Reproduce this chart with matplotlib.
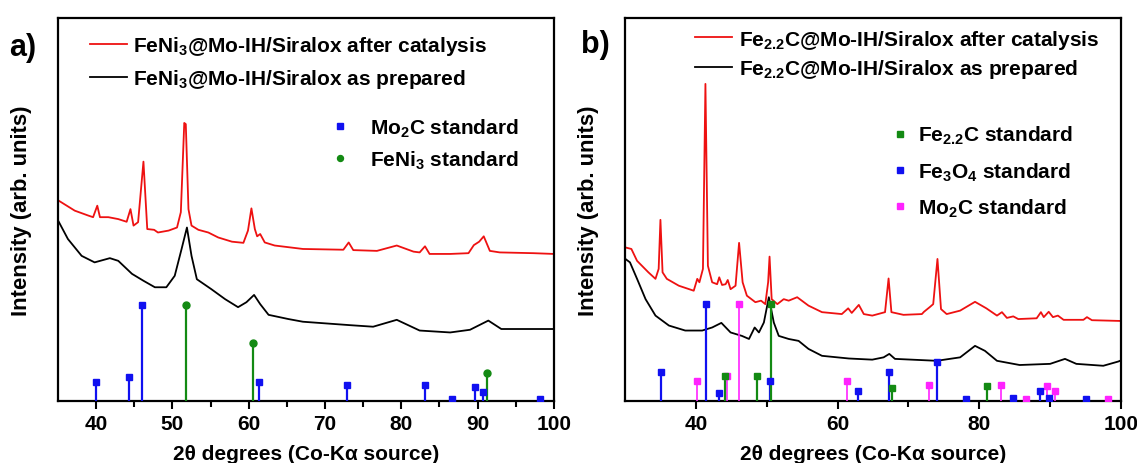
import matplotlib
matplotlib.use("Agg")
import matplotlib.pyplot as plt
from matplotlib.lines import Line2D

plt.rcParams['font.family'] = ['Liberation Sans', 'DejaVu Sans']
plt.rcParams['font.weight'] = 'bold'
plt.rcParams['mathtext.fontset'] = 'custom'
plt.rcParams['mathtext.rm'] = 'Liberation Sans:bold'
plt.rcParams['mathtext.it'] = 'Liberation Sans:bold'
plt.rcParams['mathtext.bf'] = 'Liberation Sans:bold'

# ---- panel a) FeNi3 ----
a_red_x = [35.1, 37.2, 39.0, 39.6, 40.15, 40.5, 41.6, 42.9, 44.0, 44.5, 44.9, 45.5, 46.2, 46.7,
           47.6, 48.1, 49.5, 50.6, 51.1, 51.55, 51.75, 52.1, 52.5, 53.4, 54.7, 56.0, 57.8, 59.3,
           59.9, 60.35, 60.8, 61.1, 61.5, 62.1, 63.4, 67.1, 72.4, 73.1, 73.7, 76.8, 79.4, 81.6,
           82.4, 83.1, 83.7, 86.4, 88.8, 89.5, 90.2, 90.8, 91.6, 92.9, 97.3, 100.0]
a_red_y = [52.3, 49.7, 48.4, 48.0, 51.0, 48.0, 48.0, 47.5, 46.8, 50.1, 45.8, 46.7, 62.5, 44.9,
           44.7, 44.0, 44.5, 45.3, 49.3, 72.6, 72.3, 50.1, 45.8, 44.7, 44.0, 42.7, 41.6, 41.3,
           44.5, 50.3, 44.9, 43.0, 43.6, 41.4, 40.6, 39.7, 39.5, 41.4, 39.4, 39.2, 40.6, 39.0,
           38.8, 40.4, 38.4, 38.4, 38.6, 40.7, 41.6, 43.0, 39.2, 38.8, 38.6, 38.4]
a_blk_x = [35.1, 36.3, 38.1, 39.8, 41.8, 42.9, 44.7, 46.2, 47.7, 49.2, 50.3, 51.2, 51.9, 52.5,
           53.2, 55.1, 56.9, 58.6, 59.7, 60.7, 61.5, 62.6, 65.2, 67.1, 73.3, 76.3, 79.4, 82.4,
           86.4, 89.0, 91.4, 93.1, 100.0]
a_blk_y = [46.8, 42.3, 37.9, 36.2, 37.3, 36.6, 33.2, 31.4, 29.7, 29.7, 32.7, 39.7, 45.3, 37.9,
           31.8, 29.2, 26.6, 24.5, 25.8, 27.7, 25.3, 22.5, 21.4, 20.7, 19.8, 19.4, 21.2, 18.4,
           17.9, 18.6, 21.0, 18.8, 18.8]
a_mo2c_pos = [40.0, 44.3, 46.0, 61.4, 72.9, 83.1, 86.7, 89.6, 90.7, 98.2]
a_mo2c_int = [5.0, 6.2, 25.1, 5.0, 4.1, 4.1, 0.6, 3.7, 2.3, 0.6]
a_feni3_pos = [51.8, 60.6, 91.2]
a_feni3_int = [25.1, 15.1, 7.4]

# ---- panel b) Fe2.2C ----
b_red_x = [30.05, 30.9, 31.7, 33.3, 34.3, 34.75, 35.0, 35.3, 35.9, 37.6, 39.7, 40.2, 40.5, 41.0,
           41.35, 41.7, 42.3, 43.0, 43.3, 43.7, 44.2, 44.5, 44.9, 45.6, 46.1, 46.6, 47.2, 48.4,
           49.2, 49.8, 50.2, 50.4, 50.7, 51.5, 52.4, 53.1, 54.3, 55.9, 57.8, 60.6, 61.5, 62.0,
           63.0, 63.7, 64.9, 66.7, 67.2, 67.6, 69.3, 71.9, 72.2, 73.0, 73.5, 74.1, 74.6, 75.4,
           77.3, 79.4, 81.0, 82.5, 83.2, 83.9, 84.8, 85.5, 88.1, 88.7, 89.1, 89.8, 90.4, 91.1,
           91.9, 94.7, 95.2, 95.9, 100.0]
b_red_y = [40.1, 39.7, 36.6, 33.6, 31.9, 34.5, 47.3, 33.6, 31.9, 30.1, 28.8, 31.9, 31.0, 34.5,
           82.8, 35.3, 31.0, 30.5, 32.3, 30.3, 30.5, 31.6, 29.2, 30.1, 41.3, 31.0, 27.5, 25.8,
           26.2, 25.3, 31.0, 37.7, 26.6, 25.3, 26.6, 26.2, 27.1, 24.9, 23.2, 22.7, 24.2, 23.0,
           25.1, 22.7, 22.3, 23.2, 32.0, 23.2, 22.5, 22.7, 23.3, 24.5, 25.3, 37.1, 24.0, 22.7,
           23.6, 25.9, 24.2, 22.3, 23.2, 21.7, 22.1, 21.4, 21.6, 23.2, 21.9, 23.3, 21.9, 22.3,
           21.2, 21.2, 21.9, 21.1, 20.9]
b_blk_x = [30.05, 30.7, 31.7, 32.9, 34.3, 36.2, 38.5, 40.9, 42.3, 43.6, 44.9, 46.5, 47.5, 48.3,
           48.9, 49.6, 50.3, 51.0, 51.7, 53.1, 54.5, 55.9, 57.8, 61.6, 64.9, 66.5, 67.3, 68.1,
           74.0, 77.3, 79.4, 80.8, 82.5, 85.7, 90.0, 92.1, 93.7, 97.5, 99.6, 100.0]
b_blk_y = [37.1, 36.2, 31.9, 26.6, 22.3, 19.7, 18.4, 18.4, 19.2, 20.4, 17.9, 17.0, 16.2, 19.2,
           17.9, 20.5, 27.1, 20.5, 17.0, 16.2, 15.7, 13.6, 11.8, 11.1, 10.8, 11.4, 12.3, 11.0,
           10.5, 11.4, 14.4, 13.1, 10.5, 9.4, 9.7, 11.0, 9.7, 9.2, 10.3, 10.6]
b_fe3o4_pos = [35.1, 41.4, 43.3, 50.5, 62.9, 67.3, 74.1, 78.1, 84.8, 88.6, 89.9, 95.1]
b_fe3o4_int = [7.5, 25.2, 2.0, 5.1, 2.6, 7.5, 10.1, 0.6, 0.9, 2.6, 0.9, 0.6]
b_fe22c_pos = [44.1, 48.6, 50.65, 67.7, 81.1]
b_fe22c_int = [6.4, 6.4, 25.2, 3.3, 4.0]
b_mo2c_pos = [40.1, 44.4, 46.05, 61.4, 72.9, 83.0, 86.6, 89.6, 90.7, 98.2]
b_mo2c_int = [5.1, 6.4, 25.2, 5.1, 4.2, 4.2, 0.6, 3.8, 2.5, 0.6]

BLUE = '#1010f0'
GREEN = '#138a13'
MAGENTA = '#ff22ff'
FS = 15


def sticks(ax, pos, val, color, marker, lw=1.6):
    ax.vlines(pos, 0, val, color=color, lw=lw, zorder=3)
    ax.plot(pos, val, ls='none', marker=marker, color=color, ms=5, zorder=4)


def style(ax, xlim, major, minor):
    ax.set_xlim(*xlim)
    ax.set_ylim(0, 100)
    ax.set_yticks([])
    ax.set_xticks(major)
    ax.set_xticks(minor, minor=True)
    ax.tick_params(axis='x', which='major', direction='out', length=6, width=1.5,
                   labelsize=FS, pad=3)
    ax.tick_params(axis='x', which='minor', direction='out', length=4, width=1.5)
    for lab in ax.get_xticklabels():
        lab.set_fontweight('bold')
    for s in ax.spines.values():
        s.set_linewidth(1.6)
    ax.set_xlabel('2θ degrees (Co-Kα source)', fontsize=FS, fontweight='bold', labelpad=8)
    ax.set_ylabel('Intensity (arb. units)', fontsize=FS + 0.8, fontweight='bold', labelpad=19)


fig = plt.figure(figsize=(11.37, 4.64), dpi=100)
axa = fig.add_axes([0.0510, 0.1336, 0.4362, 0.8254])
axb = fig.add_axes([0.5497, 0.1336, 0.4362, 0.8254])

# panel a
la1, = axa.plot(a_red_x, a_red_y, color='#ee1111', lw=1.3)
la2, = axa.plot(a_blk_x, a_blk_y, color='black', lw=1.3)
sticks(axa, a_mo2c_pos, a_mo2c_int, BLUE, 's')
sticks(axa, a_feni3_pos, a_feni3_int, GREEN, 'o')
style(axa, (35, 100), [40, 50, 60, 70, 80, 90, 100], [45, 55, 65, 75, 85, 95])
leg1 = axa.legend([la1, la2], ['FeNi$_3$@Mo-IH/Siralox after catalysis',
                               'FeNi$_3$@Mo-IH/Siralox as prepared'],
                  loc='upper left', bbox_to_anchor=(0.026, 1.007), frameon=False,
                  fontsize=FS, handlelength=1.8, handletextpad=0.3, labelspacing=0.47)
axa.add_artist(leg1)
h1 = Line2D([], [], ls='none', marker='s', color=BLUE, ms=4.3)
h2 = Line2D([], [], ls='none', marker='o', color=GREEN, ms=4.3)
axa.legend([h1, h2], ['Mo$_2$C standard', 'FeNi$_3$ standard'], loc='upper left',
           bbox_to_anchor=(0.51, 0.792), frameon=False, fontsize=FS,
           handlelength=1.0, handletextpad=0.94, labelspacing=0.46)

# panel b
lb1, = axb.plot(b_red_x, b_red_y, color='#ee1111', lw=1.3)
lb2, = axb.plot(b_blk_x, b_blk_y, color='black', lw=1.3)
sticks(axb, b_mo2c_pos, b_mo2c_int, MAGENTA, 's', lw=1.2)
sticks(axb, b_fe3o4_pos, b_fe3o4_int, BLUE, 's')
sticks(axb, b_fe22c_pos, b_fe22c_int, GREEN, 's')
style(axb, (30, 100), [40, 60, 80, 100], [50, 70, 90])
leg2 = axb.legend([lb1, lb2], ['Fe$_{2.2}$C@Mo-IH/Siralox after catalysis',
                               'Fe$_{2.2}$C@Mo-IH/Siralox as prepared'],
                  loc='upper left', bbox_to_anchor=(0.103, 1.024), frameon=False,
                  fontsize=FS, handlelength=1.8, handletextpad=0.3, labelspacing=0.33)
axb.add_artist(leg2)
g1 = Line2D([], [], ls='none', marker='s', color=GREEN, ms=4.3)
g2 = Line2D([], [], ls='none', marker='s', color=BLUE, ms=4.3)
g3 = Line2D([], [], ls='none', marker='s', color=MAGENTA, ms=4.3)
axb.legend([g1, g2, g3], ['Fe$_{2.2}$C standard', 'Fe$_3$O$_4$ standard', 'Mo$_2$C standard'],
           loc='upper left', bbox_to_anchor=(0.496, 0.772), frameon=False, fontsize=FS,
           handlelength=1.0, handletextpad=0.37, labelspacing=0.67)

fig.text(0.008, 0.88, 'a)', fontsize=22, fontweight='bold')
fig.text(0.511, 0.885, 'b)', fontsize=22, fontweight='bold')

fig.savefig('out.png', dpi=100)
